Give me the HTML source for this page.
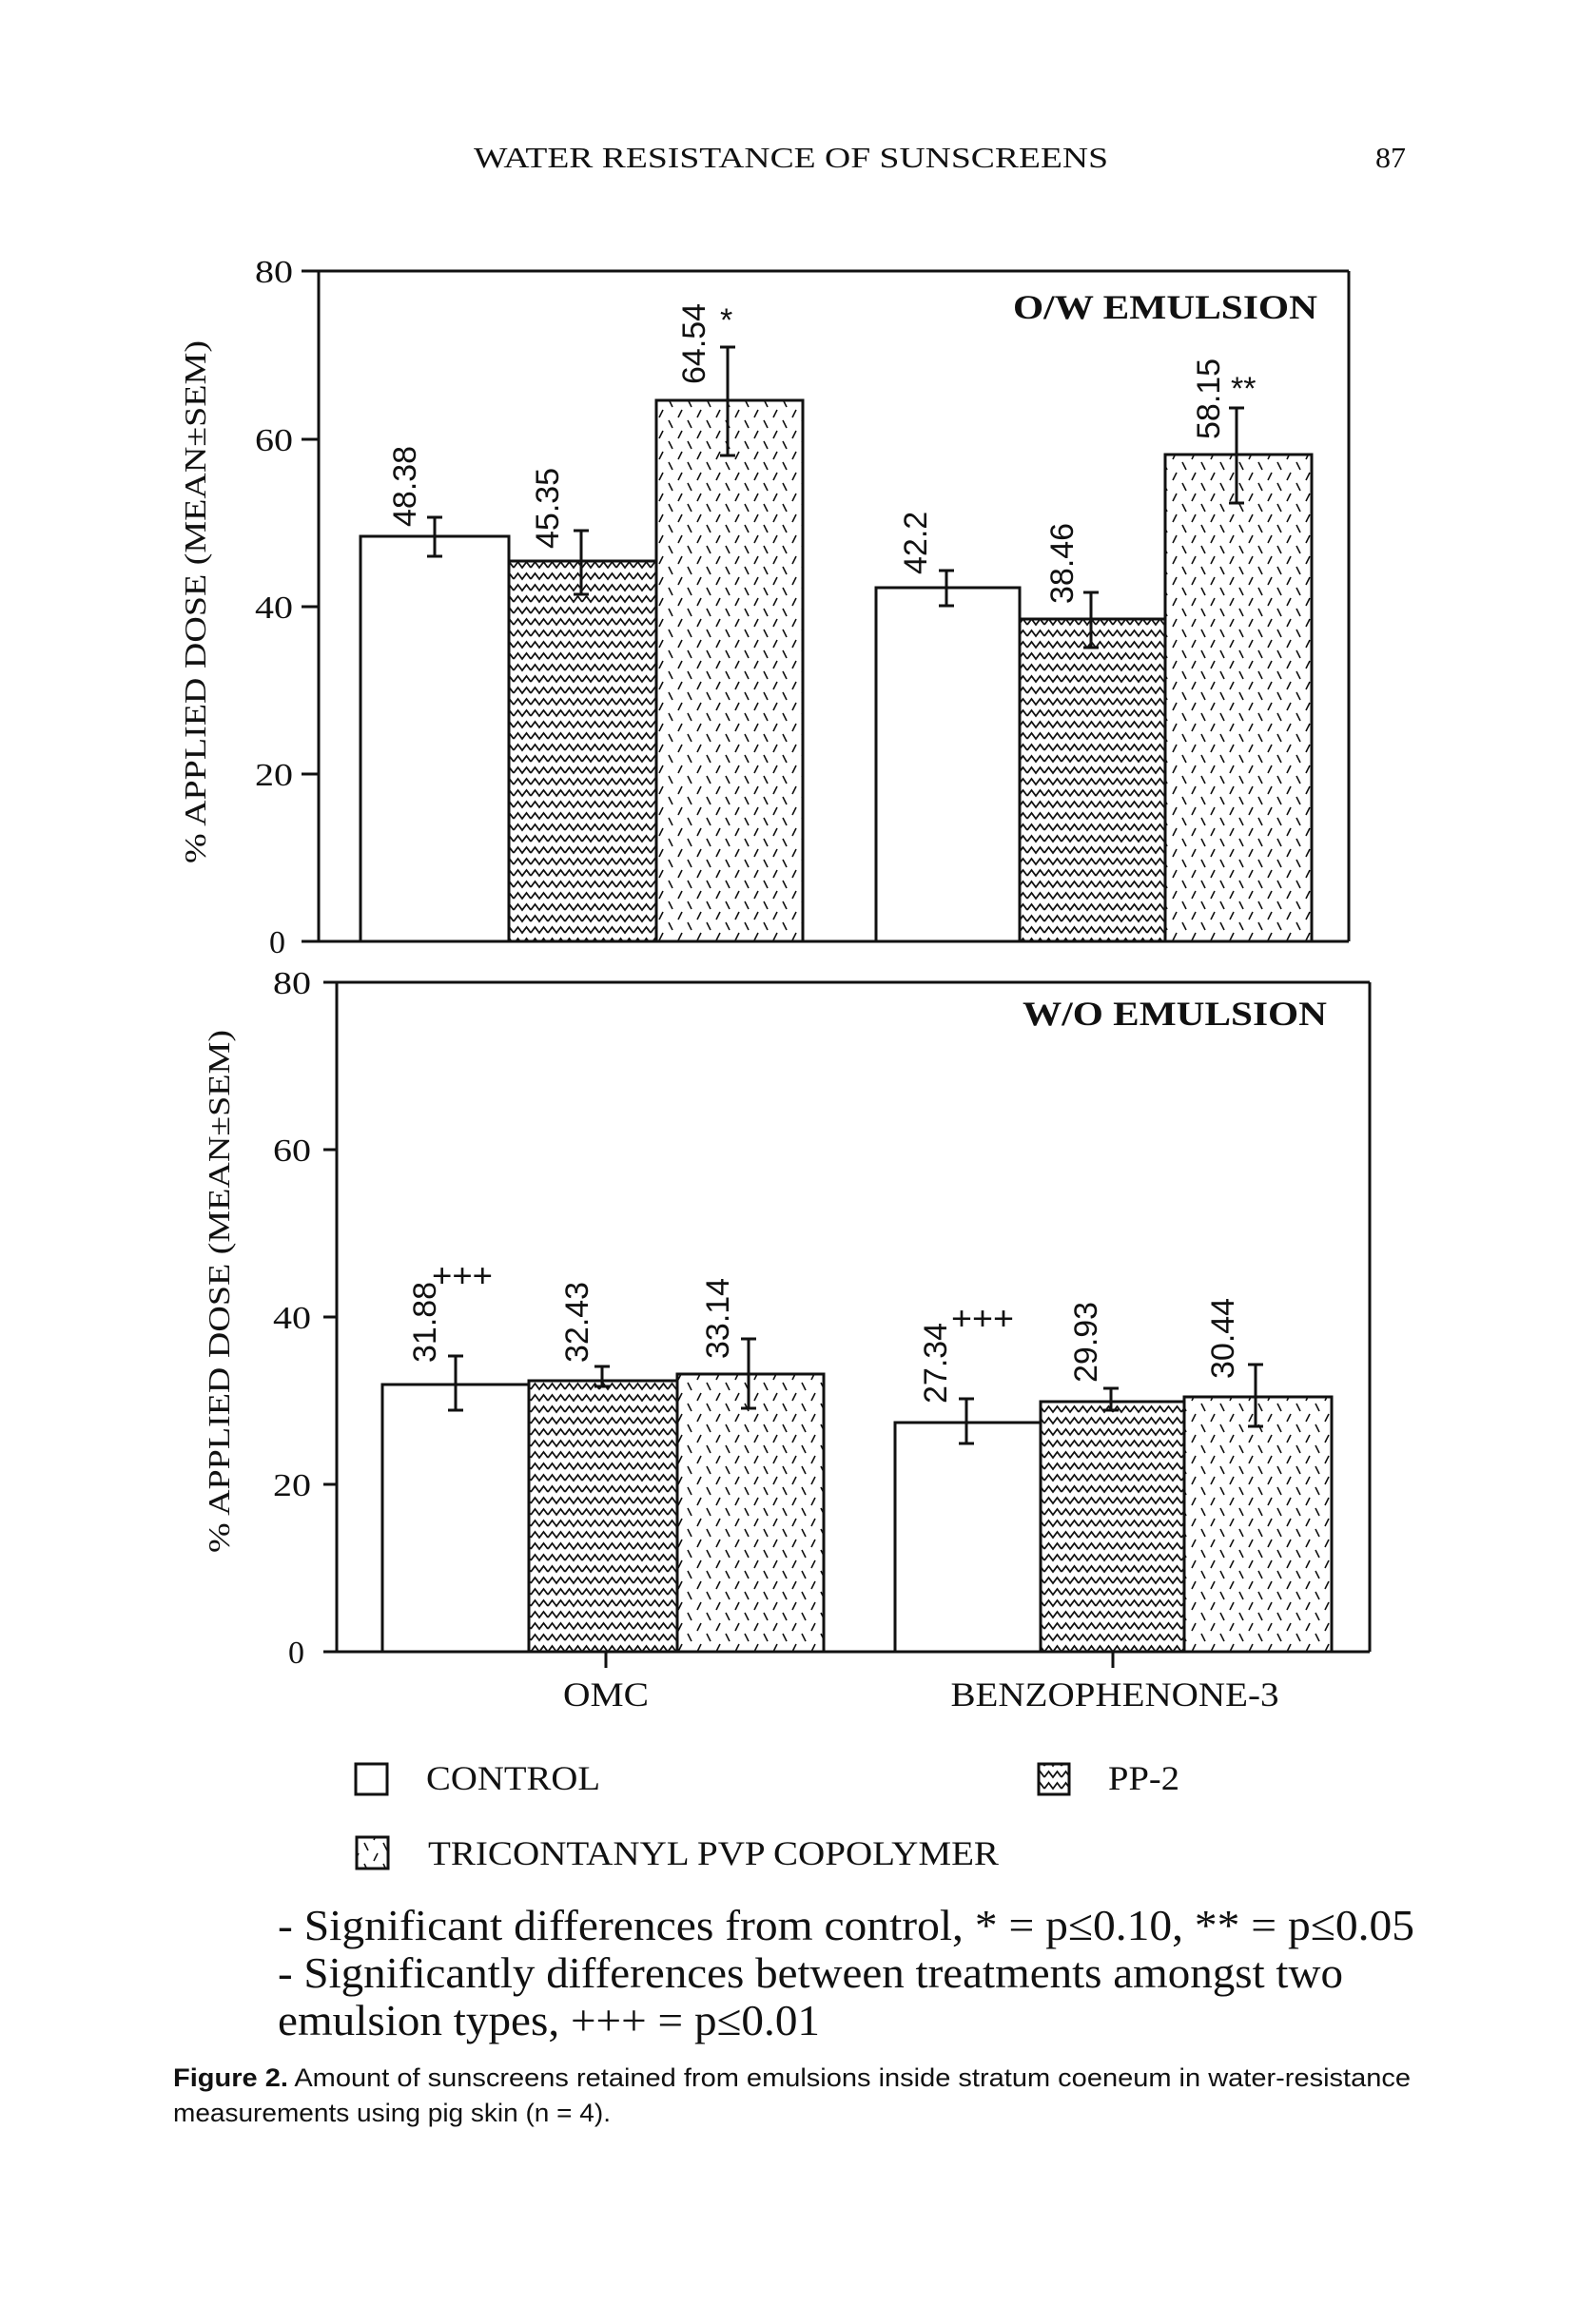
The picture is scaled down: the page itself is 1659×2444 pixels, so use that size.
<!DOCTYPE html>
<html><head><meta charset="utf-8"><style>
html,body{margin:0;padding:0;background:#fff;}
svg{display:block;}
text{fill:#111;}
.serif{font-family:"Liberation Serif",serif;}
.sans{font-family:"Liberation Sans",sans-serif;}
</style></head><body>
<svg width="1659" height="2444" viewBox="0 0 1659 2444" xmlns="http://www.w3.org/2000/svg">
<defs>
<pattern id="wave" patternUnits="userSpaceOnUse" width="18" height="12">
<path d="M0 9 L4.5 3 L9 9 L13.5 3 L18 9" fill="none" stroke="#111" stroke-width="1.8"/>
</pattern>
<pattern id="dash" patternUnits="userSpaceOnUse" width="20" height="22">
<line x1="3" y1="2" x2="7" y2="10" stroke="#111" stroke-width="1.6"/>
<line x1="17" y1="13" x2="13" y2="21" stroke="#111" stroke-width="1.6"/>
</pattern>
</defs>

<text class="serif" x="498" y="176" font-size="31" textLength="667" lengthAdjust="spacingAndGlyphs">WATER RESISTANCE OF SUNSCREENS</text>
<text class="serif" x="1446" y="176" font-size="31" textLength="32" lengthAdjust="spacingAndGlyphs">87</text>

<g stroke="#111" fill="none" stroke-width="3">
<line x1="335" y1="285" x2="1418" y2="285"/>
<line x1="1418" y1="285" x2="1418" y2="990"/>
<line x1="335" y1="285" x2="335" y2="990"/>
<line x1="317" y1="990" x2="1418" y2="990"/>
<line x1="317" y1="285" x2="335" y2="285"/>
<line x1="317" y1="462" x2="335" y2="462"/>
<line x1="317" y1="638" x2="335" y2="638"/>
<line x1="317" y1="814" x2="335" y2="814"/>
</g>
<g class="serif" font-size="34" text-anchor="end">
<text x="308" y="297" textLength="40" lengthAdjust="spacingAndGlyphs">80</text>
<text x="308" y="474" textLength="40" lengthAdjust="spacingAndGlyphs">60</text>
<text x="308" y="650" textLength="40" lengthAdjust="spacingAndGlyphs">40</text>
<text x="308" y="826" textLength="40" lengthAdjust="spacingAndGlyphs">20</text>
<text x="300" y="1002">0</text>
</g>
<text class="serif" font-size="32" transform="translate(216,908) rotate(-90)" textLength="550" lengthAdjust="spacingAndGlyphs">% APPLIED DOSE (MEAN±SEM)</text>
<text class="serif" font-size="36" font-weight="bold" x="1065" y="335" textLength="320" lengthAdjust="spacingAndGlyphs">O/W EMULSION</text>

<g stroke="#111" stroke-width="3">
<rect x="379" y="564" width="156" height="426" fill="#fff"/>
<rect x="535" y="590" width="155" height="400" fill="url(#wave)"/>
<rect x="690" y="421" width="154" height="569" fill="url(#dash)"/>
<rect x="921" y="618" width="151" height="372" fill="#fff"/>
<rect x="1072" y="651" width="153" height="339" fill="url(#wave)"/>
<rect x="1225" y="478" width="154" height="512" fill="url(#dash)"/>
</g>
<g stroke="#111" stroke-width="3">
<path d="M457 544V585M449 544H465M449 585H465"/>
<path d="M611 558V625M603 558H619M603 625H619"/>
<path d="M765 365V479M757 365H773M757 479H773"/>
<path d="M995 600V637M987 600H1003M987 637H1003"/>
<path d="M1147 623V681M1139 623H1155M1139 681H1155"/>
<path d="M1300 429V529M1292 429H1308M1292 529H1308"/>
</g>
<g class="sans" font-size="34">
<text transform="translate(437,554) rotate(-90)">48.38</text>
<text transform="translate(587,577) rotate(-90)">45.35</text>
<text transform="translate(741,404) rotate(-90)">64.54</text>
<text transform="translate(974,604) rotate(-90)">42.2</text>
<text transform="translate(1128,635) rotate(-90)">38.46</text>
<text transform="translate(1282,462) rotate(-90)">58.15</text>
<text x="757" y="348">*</text>
<text x="1294" y="420">**</text>
</g>

<g stroke="#111" fill="none" stroke-width="3">
<line x1="354" y1="1033" x2="1440" y2="1033"/>
<line x1="1440" y1="1033" x2="1440" y2="1737"/>
<line x1="354" y1="1033" x2="354" y2="1737"/>
<line x1="340" y1="1737" x2="1440" y2="1737"/>
<line x1="340" y1="1033" x2="354" y2="1033"/>
<line x1="340" y1="1209" x2="354" y2="1209"/>
<line x1="340" y1="1385" x2="354" y2="1385"/>
<line x1="340" y1="1561" x2="354" y2="1561"/>
<line x1="637" y1="1737" x2="637" y2="1754"/>
<line x1="1170" y1="1737" x2="1170" y2="1754"/>
</g>
<g class="serif" font-size="34" text-anchor="end">
<text x="327" y="1045" textLength="40" lengthAdjust="spacingAndGlyphs">80</text>
<text x="327" y="1221" textLength="40" lengthAdjust="spacingAndGlyphs">60</text>
<text x="327" y="1397" textLength="40" lengthAdjust="spacingAndGlyphs">40</text>
<text x="327" y="1573" textLength="40" lengthAdjust="spacingAndGlyphs">20</text>
<text x="320" y="1749">0</text>
</g>
<text class="serif" font-size="32" transform="translate(241,1633) rotate(-90)" textLength="550" lengthAdjust="spacingAndGlyphs">% APPLIED DOSE (MEAN±SEM)</text>
<text class="serif" font-size="36" font-weight="bold" x="1075" y="1078" textLength="320" lengthAdjust="spacingAndGlyphs">W/O EMULSION</text>

<g stroke="#111" stroke-width="3">
<rect x="402" y="1456" width="154" height="281" fill="#fff"/>
<rect x="556" y="1452" width="156" height="285" fill="url(#wave)"/>
<rect x="712" y="1445" width="154" height="292" fill="url(#dash)"/>
<rect x="941" y="1496" width="153" height="241" fill="#fff"/>
<rect x="1094" y="1474" width="151" height="263" fill="url(#wave)"/>
<rect x="1245" y="1469" width="155" height="268" fill="url(#dash)"/>
</g>
<g stroke="#111" stroke-width="3">
<path d="M479 1426V1483M471 1426H487M471 1483H487"/>
<path d="M633 1437V1458M625 1437H641M625 1458H641"/>
<path d="M787 1408V1481M779 1408H795M779 1481H795"/>
<path d="M1016 1471V1518M1008 1471H1024M1008 1518H1024"/>
<path d="M1168 1460V1483M1160 1460H1176M1160 1483H1176"/>
<path d="M1320 1435V1500M1312 1435H1328M1312 1500H1328"/>
</g>
<g class="sans" font-size="34">
<text transform="translate(458,1433) rotate(-90)">31.88</text>
<text transform="translate(618,1433) rotate(-90)">32.43</text>
<text transform="translate(766,1429) rotate(-90)">33.14</text>
<text transform="translate(995,1476) rotate(-90)">27.34</text>
<text transform="translate(1153,1454) rotate(-90)">29.93</text>
<text transform="translate(1297,1450) rotate(-90)">30.44</text>
<text x="454" y="1353" textLength="64" lengthAdjust="spacingAndGlyphs">+++</text>
<text x="1000" y="1398" textLength="66" lengthAdjust="spacingAndGlyphs">+++</text>
</g>
<g class="serif" font-size="36" text-anchor="middle">
<text x="637" y="1794" textLength="90" lengthAdjust="spacingAndGlyphs">OMC</text>
<text x="1172" y="1794" textLength="345" lengthAdjust="spacingAndGlyphs">BENZOPHENONE-3</text>
</g>

<g stroke="#111" stroke-width="3">
<rect x="374" y="1855" width="33" height="32" fill="#fff"/>
<rect x="1092" y="1855" width="32" height="32" fill="url(#wave)"/>
<rect x="375" y="1932" width="33" height="33" fill="url(#dash)"/>
</g>
<g class="serif" font-size="36">
<text x="448" y="1882" textLength="183" lengthAdjust="spacingAndGlyphs">CONTROL</text>
<text x="1165" y="1882" textLength="75" lengthAdjust="spacingAndGlyphs">PP-2</text>
<text x="450" y="1961" textLength="600" lengthAdjust="spacingAndGlyphs">TRICONTANYL PVP COPOLYMER</text>
</g>

<g class="serif" font-size="46">
<text x="292" y="2040" textLength="1195" lengthAdjust="spacingAndGlyphs">- Significant differences from control, * = p≤0.10, ** = p≤0.05</text>
<text x="292" y="2090" textLength="1120" lengthAdjust="spacingAndGlyphs">- Significantly differences between treatments amongst two</text>
<text x="292" y="2140" textLength="570" lengthAdjust="spacingAndGlyphs">emulsion types, +++ = p≤0.01</text>
</g>

<g class="sans" font-size="27">
<text x="182" y="2194" textLength="1301" lengthAdjust="spacingAndGlyphs"><tspan font-weight="bold">Figure 2.</tspan> Amount of sunscreens retained from emulsions inside stratum coeneum in water-resistance</text>
<text x="182" y="2231" textLength="460" lengthAdjust="spacingAndGlyphs">measurements using pig skin (n = 4).</text>
</g>
</svg>
</body></html>
